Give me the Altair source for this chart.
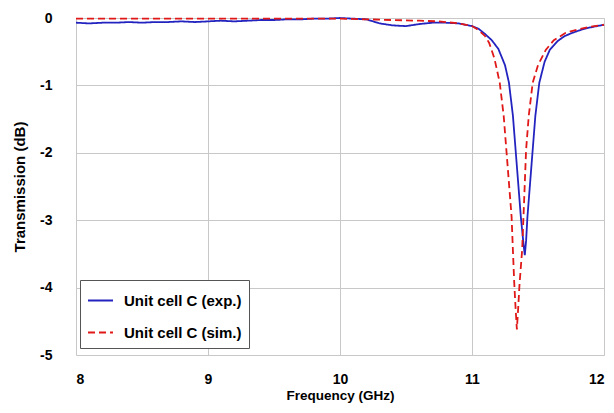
import altair as alt
import pandas as pd

exp_freq = [8.0, 8.1, 8.2, 8.3, 8.4, 8.5, 8.6, 8.7, 8.8, 8.9, 9.0, 9.1, 9.2, 9.3, 9.4, 9.5, 9.6, 9.7, 9.8, 9.9,
            10.0, 10.1, 10.2, 10.3, 10.4, 10.5, 10.6, 10.7, 10.8, 10.9, 11.0, 11.05, 11.1, 11.15, 11.2, 11.25,
            11.28, 11.31, 11.33, 11.35, 11.37, 11.39, 11.40, 11.41, 11.42, 11.44, 11.46, 11.48, 11.51, 11.55,
            11.59, 11.65, 11.7, 11.76, 11.85, 11.92, 12.0]
exp_val = [-0.07, -0.08, -0.07, -0.07, -0.06, -0.07, -0.06, -0.06, -0.05, -0.06, -0.05, -0.04, -0.05, -0.04,
           -0.03, -0.03, -0.02, -0.02, -0.01, -0.01, 0.0, -0.01, -0.02, -0.08, -0.11, -0.12, -0.09, -0.07,
           -0.07, -0.08, -0.12, -0.16, -0.24, -0.33, -0.46, -0.7, -0.96, -1.45, -1.95, -2.45, -2.95, -3.35,
           -3.52, -3.3, -2.95, -2.45, -1.95, -1.45, -0.96, -0.65, -0.47, -0.34, -0.27, -0.22, -0.16, -0.13, -0.1]

sim_freq = [8.0, 8.5, 9.0, 9.5, 10.0, 10.2, 10.4, 10.6, 10.75, 10.9, 11.0, 11.05, 11.1, 11.13, 11.17, 11.21,
            11.24, 11.26, 11.28, 11.30, 11.31, 11.32, 11.33, 11.34, 11.35, 11.36, 11.38, 11.395, 11.41, 11.43,
            11.46, 11.5, 11.56, 11.62, 11.71, 11.8, 11.9, 12.0]
sim_val = [-0.01, -0.01, -0.01, -0.01, -0.01, -0.02, -0.03, -0.04, -0.05, -0.08, -0.12, -0.18, -0.27, -0.37,
           -0.6, -0.96, -1.45, -1.95, -2.45, -2.95, -3.45, -3.93, -4.3, -4.62, -4.3, -3.95, -3.44, -2.7,
           -1.95, -1.45, -0.96, -0.7, -0.47, -0.33, -0.22, -0.17, -0.13, -0.1]

series_names = ["Unit cell C (exp.)", "Unit cell C (sim.)"]
x_ticks = [8, 9, 10, 11, 12]
y_ticks = [0, -1, -2, -3, -4, -5]

df = pd.concat([
    pd.DataFrame({"f": exp_freq, "t": exp_val, "s": series_names[0], "o": range(len(exp_freq))}),
    pd.DataFrame({"f": sim_freq, "t": sim_val, "s": series_names[1], "o": range(len(sim_freq))}),
])

font = "Liberation Sans"

chart = alt.Chart(df).mark_line(strokeWidth=1.8).encode(
    x=alt.X("f:Q", scale=alt.Scale(domain=[8, 12], nice=False),
            axis=alt.Axis(values=x_ticks, title="Frequency (GHz)", format="d", grid=True,
                          gridColor="#c8c8c8", ticks=False, domain=False, labelPadding=17,
                          titlePadding=2, labelFontSize=14, labelFontWeight="bold",
                          titleFontSize=13.5, titleFontWeight="bold", labelColor="#000", titleColor="#000",
                          labelFont=font, titleFont=font)),
    y=alt.Y("t:Q", scale=alt.Scale(domain=[-5, 0], nice=False),
            axis=alt.Axis(values=y_ticks, title="Transmission (dB)", grid=True,
                          labelExpr="datum.value == 0 ? '0' : '-' + abs(datum.value)",
                          gridColor="#c8c8c8", ticks=False, domain=False, labelPadding=24,
                          titlePadding=12, labelFontSize=14, labelFontWeight="bold",
                          titleFontSize=15, titleFontWeight="bold", labelColor="#000", titleColor="#000",
                          labelFont=font, titleFont=font)),
    color=alt.Color("s:N", scale=alt.Scale(domain=series_names, range=["#2323c0", "#e01818"]),
                    legend=alt.Legend(title=None, orient="none", legendX=4, legendY=262,
                                      strokeColor="#555", fillColor="white", padding=7,
                                      labelFontSize=15, labelFontWeight="bold", labelFont=font,
                                      labelColor="#000", symbolType="stroke", symbolSize=625,
                                      symbolStrokeWidth=1.8, rowPadding=10, labelOffset=10,
                                      labelLimit=220)),
    strokeDash=alt.StrokeDash("s:N", scale=alt.Scale(domain=series_names, range=[[1, 0], [7, 4]]),
                              legend=None),
    order="o:Q",
).properties(
    width=528, height=337,
    autosize=alt.AutoSizeParams(type="none"),
    padding={"left": 76, "top": 18, "right": 10, "bottom": 58},
).configure_view(stroke="#808080", strokeWidth=1.5).configure(background="white")

chart.save("out.html", embed_options={"renderer": "svg", "actions": False})
